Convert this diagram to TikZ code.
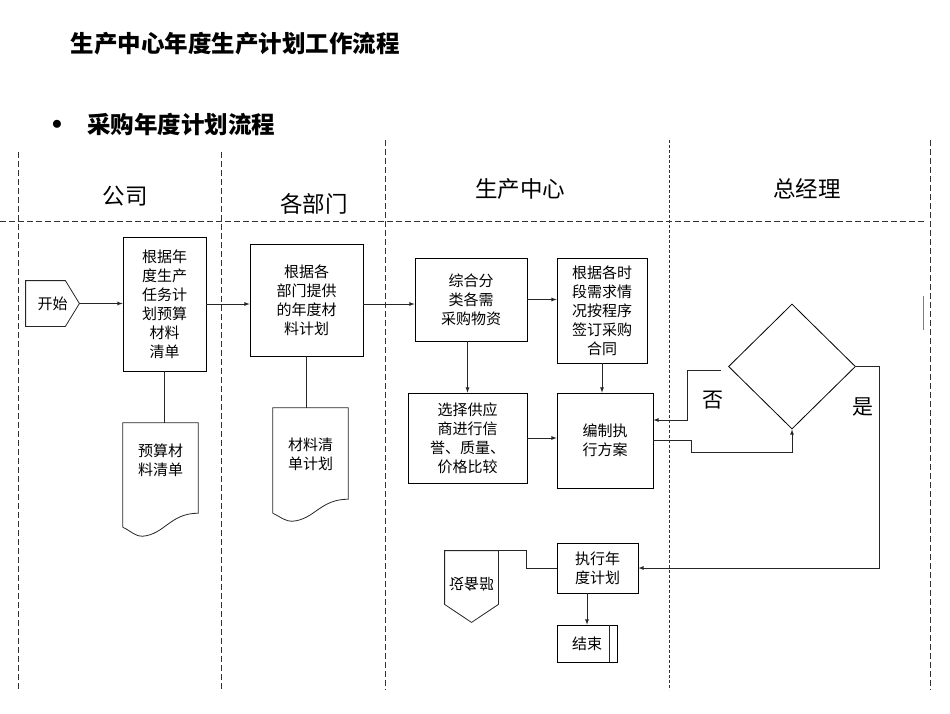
\documentclass[tikz,border=0pt]{standalone}
\usepackage{fontspec}
\setmainfont{Noto Sans CJK SC}
\usepackage{tikz}
\usetikzlibrary{shapes,arrows,positioning,calc}

\begin{document}
\begin{tikzpicture}[x=1pt,y=-1pt,
  lane/.style={dash pattern=on 6pt off 3pt, line width=0.7pt, black!80},
  box/.style={draw, line width=0.8pt, inner sep=0pt, align=center, font=\fontsize{15}{19}\selectfont},
  line/.style={line width=0.8pt, black!85},
  arr/.style={line, -latex},
  head/.style={font=\fontsize{22.5}{26}\selectfont},
  doc/.style={minimum width=75, inner sep=0pt}]
\useasboundingbox (0,0) rectangle (950,713);

% titles
\node (title) at (235,44) {\fontsize{23.5}{28}\selectfont\bfseries 生产中心年度生产计划工作流程};
\node (dot) at (57,125) {\fontsize{20}{24}\selectfont $\bullet$};
\node (sub) at (181,125) {\fontsize{23.5}{28}\selectfont\bfseries 采购年度计划流程};

% lanes
\draw[lane] (0,221) -- (925,221);
\foreach \x/\y in {18/152, 221/152, 385/140, 930/140}
  \draw[lane] (\x,\y) -- (\x,690);
\draw[lane, dash pattern=on 3pt off 2pt] (669,140) -- (669,690);
\draw[black!50, line width=1pt] (923,296) -- (923,330);

\node[head] (company) at (125,196) {公司};
\node[head] (depts) at (314,204) {各部门};
\node[head] (center) at (520,189) {生产中心};
\node[head] (boss) at (807,189) {总经理};

% steps
\node[box, draw=none, minimum width=53, minimum height=45] (start) at (52.5,303.5) {开始};
\draw[line] (start.north west) -- ($(start.north east)+(-14,0)$) -- (start.east)
  -- ($(start.south east)+(-14,0)$) -- (start.south west) -- cycle;
\node[box, minimum width=83, minimum height=134] (plan) at (164.5,304) {根据年\\度生产\\任务计\\划预算\\材料\\清单};
\node[box, minimum width=113, minimum height=112] (dept) at (306.5,300) {根据各\\部门提供\\的年度材\\料计划};
\node[box, minimum width=112, minimum height=83] (sort) at (471,299.5) {综合分\\类各需\\采购物资};
\node[box, minimum width=90, minimum height=105] (sign) at (602,310.5) {根据各时\\段需求情\\况按程序\\签订采购\\合同};
\node[box, minimum width=119, minimum height=90] (supp) at (467.5,438) {选择供应\\商进行信\\誉、质量、\\价格比较};
\node[box, minimum width=96, minimum height=95] (draft) at (605,440.5) {编制执\\行方案};
\node[draw, diamond, line width=0.8pt, minimum width=127, minimum height=125, inner sep=0pt] (chk) at (792,366.5) {};
\node[box, minimum width=81, minimum height=50] (exec) at (597.5,568) {执行年\\度计划};
\node[box, minimum width=60, minimum height=37] (end) at (587,643.5) {结束};
\draw[line] ($(end.north east)+(-8,0)$) -- ($(end.south east)+(-8,0)$);
\node[box, draw=none, minimum width=53, minimum height=71] (equip) at (471.5,586.5) {};
\node[box, draw=none] at ($(equip)+(0,-2)$) {\scalebox{1}[-1]{设备部}};
\draw[line] (equip.north west) -- (equip.north east) -- ($(equip.south east)+(0,-18)$)
  -- (equip.south) -- ($(equip.south west)+(0,-18)$) -- cycle;

% documents
\node[doc, minimum height=104] (budget) at (160.5,475) {};
\node[box, draw=none] at ($(budget)+(0,-15)$) {预算材\\料清单};
\draw[line] (budget.south west) -- (budget.north west) -- (budget.north east) -- ($(budget.south east)+(0,-14)$)
  .. controls +(-28,0) and +(22,-2) .. ($(budget.south west)+(20,9)$)
  .. controls +(-8,0) and +(10,5) .. (budget.south west);
\node[doc, minimum height=105] (matl) at (310.5,460.5) {};
\node[box, draw=none] at ($(matl)+(0,-6.5)$) {材料清\\单计划};
\draw[line] (matl.south west) -- (matl.north west) -- (matl.north east) -- ($(matl.south east)+(0,-14)$)
  .. controls +(-28,0) and +(22,-2) .. ($(matl.south west)+(20,8)$)
  .. controls +(-8,0) and +(10,5) .. (matl.south west);

% connectors
\draw[arr] (start.east) -- (start.east -| plan.west);
\draw[arr] (plan.east) -- (plan.east -| dept.west);
\draw[arr] (dept.east |- plan.east) -- (plan.east -| sort.west);
\draw[arr] (sort.east) -- (sort.east -| sign.west);
\draw[arr] (supp.north |- sort.south) -- (supp.north);
\draw[arr] (sign.south) -- (sign.south |- draft.north);
\draw[arr] (supp.east) -- (supp.east -| draft.west);
\draw[arr] (draft.east) -- ++(38,0) -- ++(0,12) -| (chk.south);
\draw[arr] ($(chk.west)+(-7,4)$) -- ++(-34,0) |- ($(draft.east)+(0,-20.5)$);
\draw[arr] (chk.east) -- ++(23,0) |- (exec.east);
\draw[line] (exec.west) -- ++(-30,0) |- (equip.north east);
\draw[arr] (end.north |- exec.south) -- (end.north);
\draw[line] (plan.south) -- (plan.south |- budget.north);
\draw[line] (dept.south) -- (dept.south |- matl.north);

\node[font=\fontsize{21}{24}\selectfont] (no) at (713,400) {否};
\node[font=\fontsize{21}{24}\selectfont] (yes) at (863,407) {是};
\end{tikzpicture}
\end{document}
